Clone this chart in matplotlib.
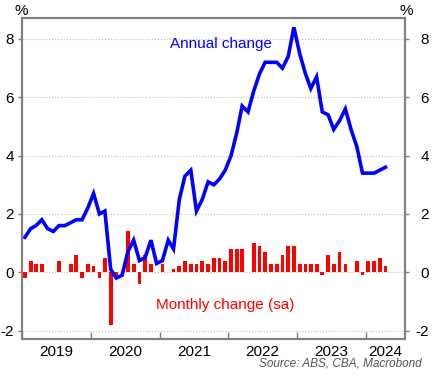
import matplotlib
matplotlib.use("Agg")
import matplotlib.pyplot as plt
import matplotlib.dates as mdates
from matplotlib.ticker import FixedLocator, FixedFormatter, NullFormatter
import pandas as pd

plt.rcParams['font.family'] = ['Liberation Sans', 'DejaVu Sans']
plt.rcParams['axes.unicode_minus'] = False

# annual change, % (Jan 2019 - Apr 2024)
annual = [1.2, 1.5, 1.6, 1.8, 1.5, 1.4, 1.6, 1.6, 1.7, 1.8, 1.8, 2.2,
          2.7, 2.0, 2.1, 0.1, -0.2, -0.1, 0.7, 1.1, 0.4, 0.5, 1.1, 0.3,
          0.4, 1.1, 0.8, 2.5, 3.3, 3.5, 2.1, 2.5, 3.1, 3.0, 3.2, 3.5,
          4.0, 4.8, 5.7, 5.5, 6.2, 6.8, 7.2, 7.2, 7.2, 7.0, 7.4, 8.4,
          7.5, 6.8, 6.3, 6.7, 5.5, 5.4, 4.9, 5.2, 5.6, 4.9, 4.3, 3.4,
          3.4, 3.4, 3.5, 3.6]
# monthly change (sa), %
monthly = [-0.2, 0.4, 0.3, 0.3, 0.0, 0.0, 0.4, 0.0, 0.3, 0.6, -0.2, 0.3,
           0.2, -0.2, 0.5, -1.8, -0.2, 0.0, 1.4, 0.3, -0.4, 0.6, 0.3, 0.0,
           0.3, 0.0, 0.1, 0.2, 0.4, 0.3, 0.3, 0.4, 0.3, 0.5, 0.5, 0.4,
           0.8, 0.8, 0.8, 0.0, 1.0, 0.9, 0.7, 0.3, 0.3, 0.6, 0.9, 0.9,
           0.3, 0.3, 0.3, 0.3, -0.1, 0.6, 0.3, 0.7, 0.3, 0.0, 0.4, -0.1,
           0.4, 0.4, 0.5, 0.2]
years = [2019, 2020, 2021, 2022, 2023, 2024]
yticks = [-2, 0, 2, 4, 6, 8]

months = pd.date_range('2019-01-01', periods=len(annual), freq='MS') + pd.Timedelta(days=14)
x0, x1 = pd.Timestamp('2019-01-01'), pd.Timestamp('2024-07-28')

blue = '#0000ff'
red = '#ff0000'
grey = '#808080'

fig = plt.figure(figsize=(4.38, 3.79), dpi=100)
ax = fig.add_axes([0.0509, 0.1055, 0.8738, 0.847])

ax.bar(months, monthly, width=20, color=red, zorder=2)
ax.plot(months, annual, color=blue, lw=2.6, zorder=3, solid_joinstyle='miter')

ax.set_xlim(x0, x1)
ax.set_ylim(-2.29, 8.72)
ax.set_yticks(yticks)
ax.yaxis.grid(True, ls=':', color='#c0c0c0', lw=0.8, zorder=0)
ax.set_axisbelow(True)

# year boundaries as inward ticks, labels centred in each year
ax.xaxis.set_major_locator(mdates.YearLocator())
ax.xaxis.set_major_formatter(NullFormatter())
label_pos = [mdates.date2num(pd.Timestamp(f'{y}-07-01')) for y in years[:-1]]
label_pos.append((mdates.date2num(pd.Timestamp('2024-01-01')) + mdates.date2num(x1)) / 2)
ax.xaxis.set_minor_locator(FixedLocator(label_pos))
ax.xaxis.set_minor_formatter(FixedFormatter([str(y) for y in years]))
ax.tick_params(axis='x', which='major', direction='in', length=5, width=1, color=grey)
ax.tick_params(axis='x', which='minor', length=0, labelsize=11, pad=4)

ax.tick_params(axis='y', direction='out', length=3, width=1, color=grey, labelsize=11, pad=3)

ax2 = ax.twinx()
ax2.set_ylim(ax.get_ylim())
ax2.set_yticks(yticks)
ax2.tick_params(axis='y', direction='out', length=3, width=1, color=grey, labelsize=11, pad=14)
for lbl in ax2.get_yticklabels():
    lbl.set_horizontalalignment('right')

for a in (ax, ax2):
    for s in a.spines.values():
        s.set_color(grey)
        s.set_linewidth(1.5)

ax.text(0.386, 0.919, 'Annual change', transform=ax.transAxes, color=blue,
        fontsize=11, ha='left', va='center')
ax.text(0.3486, 0.106, 'Monthly change (sa)', transform=ax.transAxes, color=red,
        fontsize=11, ha='left', va='center')

fig.text(21 / 438, 1 - 11 / 379, '%', ha='center', va='center', fontsize=11)
fig.text(406 / 438, 1 - 11 / 379, '%', ha='center', va='center', fontsize=11)
fig.text(421.7 / 438, 1 - 364 / 379, 'Source: ABS, CBA, Macrobond', ha='right', va='center',
         fontsize=8.5, style='italic', color='#555555')

fig.savefig('out.png', dpi=100)
